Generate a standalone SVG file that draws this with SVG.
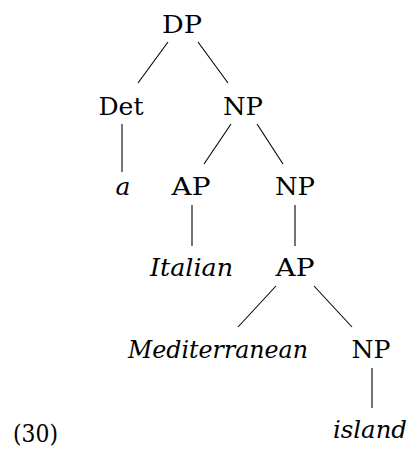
<svg xmlns="http://www.w3.org/2000/svg" width="411" height="454" viewBox="0 0 411 454">
<style>
text{font-family:"DejaVu Serif","Liberation Serif",serif;font-size:25px;fill:#000;text-anchor:middle}
.i{font-style:italic}
#edges line{stroke:#000;stroke-width:1.1}
</style>
<rect width="411" height="454" fill="#fff"/>
<g id="edges">
<line x1="168" y1="42" x2="138" y2="83"/>
<line x1="198" y1="42" x2="228" y2="83"/>
<line x1="122" y1="124" x2="122" y2="172"/>
<line x1="231" y1="124" x2="204" y2="164"/>
<line x1="257" y1="124" x2="283" y2="164"/>
<line x1="192" y1="205" x2="192" y2="246"/>
<line x1="295" y1="205" x2="295" y2="246"/>
<line x1="276" y1="286" x2="238" y2="327"/>
<line x1="314" y1="286" x2="352" y2="327"/>
<line x1="372" y1="368" x2="372" y2="408"/>
</g>
<g id="n-dp"><text x="182" y="33" textLength="40" lengthAdjust="spacingAndGlyphs">DP</text></g>
<g id="n-det"><text x="121" y="115" textLength="45" lengthAdjust="spacingAndGlyphs">Det</text></g>
<g id="n-np1"><text x="243" y="115" textLength="40" lengthAdjust="spacingAndGlyphs">NP</text></g>
<g id="n-a"><text class="i" x="123" y="195">a</text></g>
<g id="n-ap1"><text x="191" y="195" textLength="39" lengthAdjust="spacingAndGlyphs">AP</text></g>
<g id="n-np2"><text x="295" y="195" textLength="40" lengthAdjust="spacingAndGlyphs">NP</text></g>
<g id="n-italian"><text class="i" x="191.5" y="276" textLength="83" lengthAdjust="spacingAndGlyphs">Italian</text></g>
<g id="n-ap2"><text x="295" y="276" textLength="39" lengthAdjust="spacingAndGlyphs">AP</text></g>
<g id="n-med"><text class="i" x="218" y="358" textLength="180" lengthAdjust="spacingAndGlyphs">Mediterranean</text></g>
<g id="n-np3"><text x="371" y="358" textLength="39" lengthAdjust="spacingAndGlyphs">NP</text></g>
<g id="n-island"><text class="i" x="370" y="438" textLength="74" lengthAdjust="spacingAndGlyphs">island</text></g>
<g id="label"><text x="35.5" y="442" textLength="45" lengthAdjust="spacingAndGlyphs">(30)</text></g>
</svg>
